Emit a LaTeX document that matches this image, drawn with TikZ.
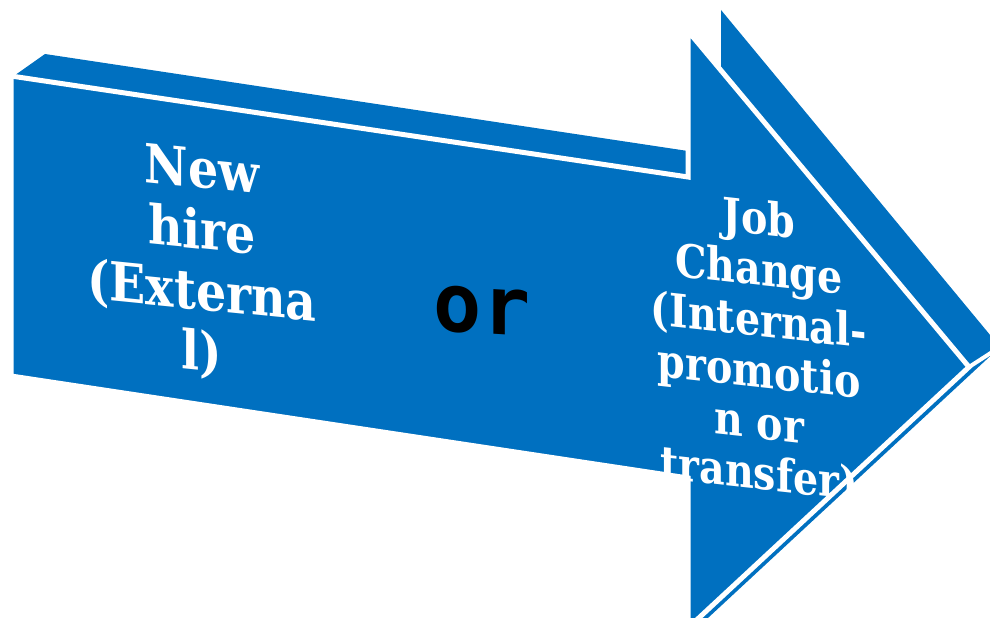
\documentclass[tikz,border=0pt]{standalone}
\usepackage{fontspec}
\newfontfamily\slabfont{DejaVu Serif}
\newfontfamily\monofont{DejaVu Sans Mono}
\definecolor{arrowblue}{RGB}{0,112,192}
\begin{document}
\begin{tikzpicture}[x=1pt, y=-1pt, line join=miter,
	face/.style={fill=arrowblue, draw=white, line width=5pt},
	wtext/.style={text=white, align=center, inner sep=0pt}]
	\useasboundingbox (0,0) rectangle (990,618);
	\clip (0,0) rectangle (990,618);
	% body of the arrow, seen behind the front
	\fill[arrowblue] (11,78) -- (45,54) -- (721,156) -- (721,10) -- (1000,347) -- (695,630) -- (688,630) -- (688,478) -- (11,376) -- cycle;
	% front face
	\filldraw[face] (11,76) -- (688,177) -- (688,31) -- (969,367) -- (688,628) -- (688,478) -- (11,376) -- cycle;
	\draw[white, line width=4pt] (969,367) -- (1000,347);
	% texts
	\node[wtext, yslant=-.1, xscale=.88, font=\slabfont\bfseries\fontsize{54}{61}\selectfont] (newhire) at (202,264) {New\\hire\\(Externa\\l)};
	\node[inner sep=0pt, yslant=-.06, yscale=1.02, font=\monofont\bfseries\fontsize{80}{90}\selectfont] (orword) at (482,311) {or};
	\node[wtext, yslant=-.11, xscale=.86, font=\slabfont\bfseries\fontsize{46}{51}\selectfont] (jobchange) at (759,348) {Job\\Change\\(Internal-\\promotio\\n or\\transfer)};
\end{tikzpicture}
\end{document}
